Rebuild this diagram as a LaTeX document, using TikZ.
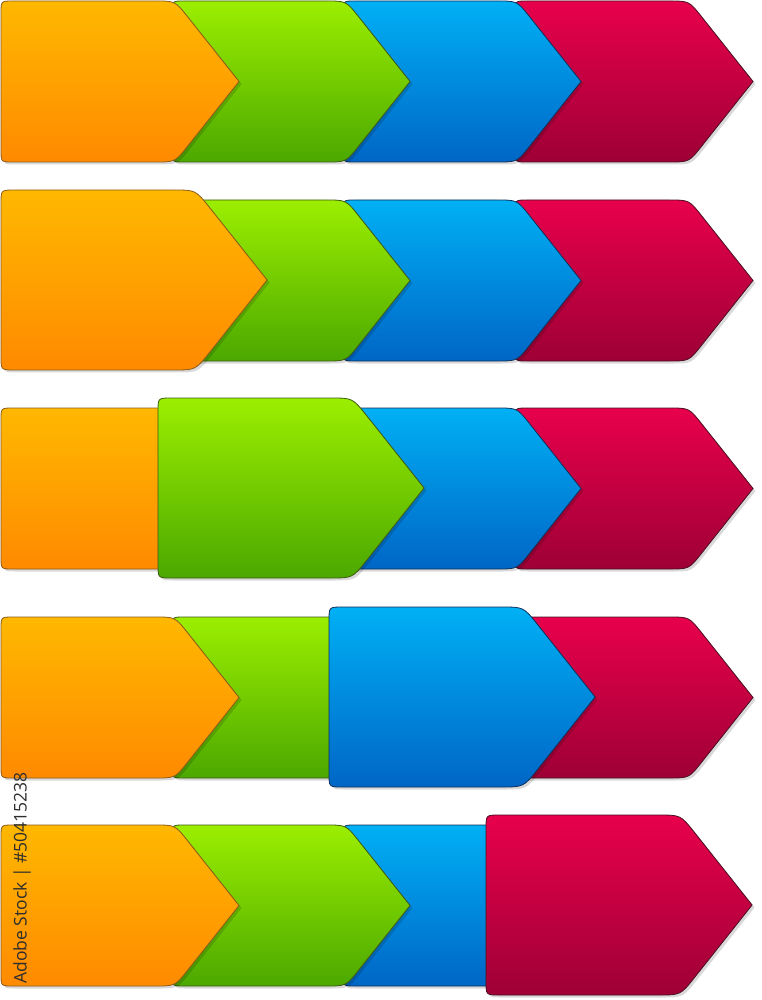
\documentclass[tikz,border=0pt]{standalone}
\usepackage{fontspec}
\setsansfont{Open Sans}
\usetikzlibrary{shadows}

\definecolor{orgtop}{HTML}{FFB800}
\definecolor{orgbot}{HTML}{FF8A00}
\definecolor{orgline}{HTML}{8B5A1A}
\definecolor{grntop}{HTML}{9CEE00}
\definecolor{grnbot}{HTML}{4BA800}
\definecolor{grnline}{HTML}{3E5A10}
\definecolor{blutop}{HTML}{00B0F5}
\definecolor{blubot}{HTML}{0066C6}
\definecolor{bluline}{HTML}{10305A}
\definecolor{redtop}{HTML}{E8004C}
\definecolor{redbot}{HTML}{9E0036}
\definecolor{redline}{HTML}{4A1020}

\tikzset{
  chev/.style={line width=0.8pt, drop shadow={shadow xshift=2.5pt, shadow yshift=-2.5pt, opacity=0.15, fill=black}},
  orangetab/.style={chev, top color=orgtop, bottom color=orgbot, draw=orgline},
  greentab/.style={chev, top color=grntop, bottom color=grnbot, draw=grnline},
  bluetab/.style={chev, top color=blutop, bottom color=blubot, draw=bluline},
  redtab/.style={chev, top color=redtop, bottom color=redbot, draw=redline}
}

% #1 left, #2 top, #3 scale, #4 style
\newcommand{\chevron}[4]{%
  \begin{scope}[shift={(#1,#2)}, scale=#3]
    \path[#4] (0,12) .. controls (0,0) .. (12,0) -- (154,0) .. controls (174,0) .. (186,15)
      -- (238,80.5) -- (186,146) .. controls (174,161) .. (154,161) -- (12,161)
      .. controls (0,161) .. (0,149) -- cycle;
  \end{scope}}

\begin{document}
\begin{tikzpicture}[x=1pt, y=-1pt]
  \useasboundingbox (0,0) rectangle (762,1000);

  % Row 1
  \chevron{515}{1}{1}{redtab}
  \chevron{343}{1}{1}{bluetab}
  \chevron{172}{1}{1}{greentab}
  \chevron{1}{1}{1}{orangetab}

  % Row 2 (orange large)
  \chevron{515}{200}{1}{redtab}
  \chevron{343}{200}{1}{bluetab}
  \chevron{172}{200}{1}{greentab}
  \chevron{1}{190}{1.118}{orangetab}

  % Row 3 (green large)
  \chevron{515}{408}{1}{redtab}
  \chevron{343}{408}{1}{bluetab}
  \chevron{1}{408}{1}{orangetab}
  \chevron{158}{398}{1.118}{greentab}

  % Row 4 (blue large)
  \chevron{515}{617}{1}{redtab}
  \chevron{172}{617}{1}{greentab}
  \chevron{1}{617}{1}{orangetab}
  \chevron{329}{607}{1.118}{bluetab}

  % Row 5 (red large)
  \chevron{343}{825}{1}{bluetab}
  \chevron{172}{825}{1}{greentab}
  \chevron{1}{825}{1}{orangetab}
  \chevron{486}{815}{1.118}{redtab}

  % Stock label
  \node[rotate=90, text=black!82, font=\sffamily\fontsize{17.5}{17.5}\selectfont] (stockid) at (22,878) {Adobe Stock | \#50415238};
\end{tikzpicture}
\end{document}
